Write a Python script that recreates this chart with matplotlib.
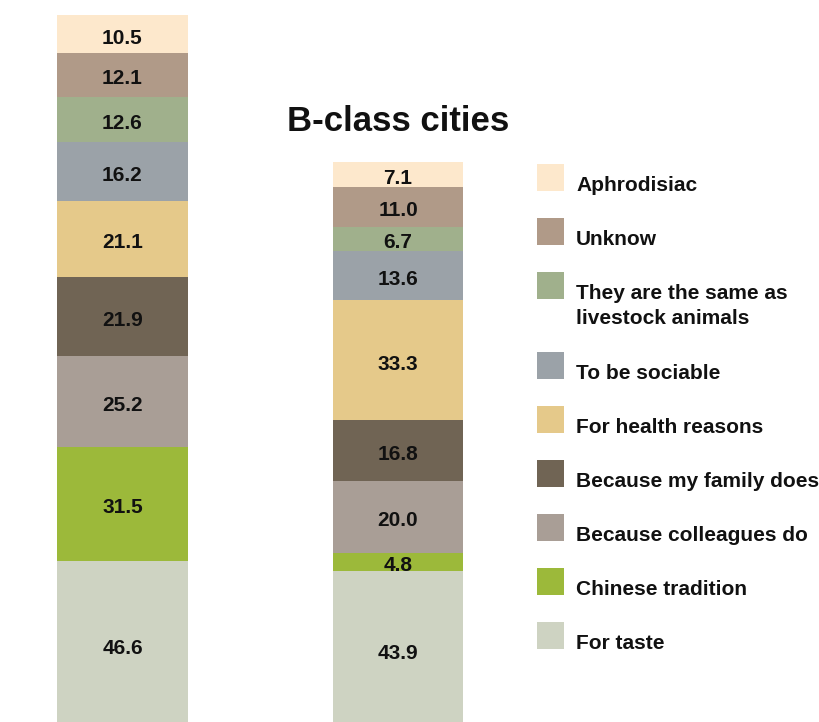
import numpy as np
import matplotlib
matplotlib.use('Agg')
import matplotlib.pyplot as plt
from matplotlib.patches import Rectangle

# categories listed bottom -> top of the stack
reasons = ['For taste', 'Chinese tradition', 'Because colleagues do',
           'Because my family does', 'For health reasons', 'To be sociable',
           'They are the same as\nlivestock animals', 'Unknow', 'Aphrodisiac']
colors = ['#ced3c2', '#9cb93a', '#a99e96', '#706454', '#e5c98a',
          '#9ba2a8', '#a0b08c', '#b09a88', '#fde8cc']
left_vals = [46.6, 31.5, 25.2, 21.9, 21.1, 16.2, 12.6, 12.1, 10.5]
bclass_vals = [43.9, 4.8, 20.0, 16.8, 33.3, 13.6, 6.7, 11.0, 7.1]
title = 'B-class cities'

W, H = 819, 722
plt.rcParams['font.family'] = ['Liberation Sans', 'DejaVu Sans']
plt.rcParams['font.weight'] = 'bold'

fig = plt.figure(figsize=(W / 100, H / 100), dpi=100)
ax = fig.add_axes([0, 0, 1, 1])
ax.set_xlim(-0.4446, 2.528)
ax.set_ylim(1.94, 201.94)
ax.axis('off')

def px(x):
    return x / W

def py(y):
    return 1 - y / H

for i, vals in enumerate([left_vals, bclass_vals]):
    bottom = 0
    for v, c in zip(vals, colors):
        ax.bar(i, v, bottom=bottom, width=0.475, color=c, linewidth=0)
        ax.text(i, bottom + v / 2 - 0.5, '%.1f' % v, ha='center', va='center_baseline',
                fontsize=15, fontweight='bold', color='#111111')
        bottom += v

fig.text(px(398.5), py(131), title, ha='center', va='baseline',
         fontsize=25, fontweight='bold', color='#111111')

# legend, top entry first
top = 164
for lab, c in zip(reasons[::-1], colors[::-1]):
    fig.patches.append(Rectangle((px(537), py(top + 27)), 27 / W, 27 / H,
                                 transform=fig.transFigure, color=c, linewidth=0))
    lines = lab.split('\n')
    for k, ln in enumerate(lines):
        fig.text(px(576), py(top + 27 + 25 * k), ln, ha='left', va='baseline',
                 fontsize=15, fontweight='bold', color='#111111')
    top += 54 + 26 * (len(lines) - 1)

fig.savefig('out.png', dpi=100)
